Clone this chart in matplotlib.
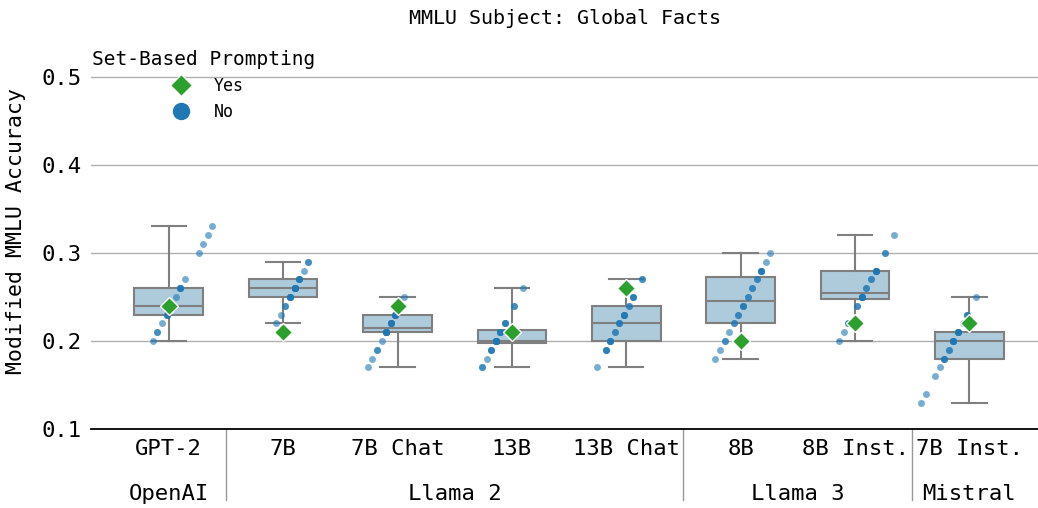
import numpy as np
import matplotlib
matplotlib.use("Agg")
import matplotlib.pyplot as plt
from matplotlib.lines import Line2D

plt.rcParams['font.family'] = ['DejaVu Sans Mono']

# modele ve gruplar
models = ["GPT-2", "7B", "7B Chat", "13B", "13B Chat", "8B", "8B Inst.", "7B Inst."]
groups = ["OpenAI", "Llama 2", "Llama 3", "Mistral"]
group_sizes = [1, 4, 2, 1]

# set-based prompting (Yes) sonuclari
yes_acc = [0.24, 0.21, 0.24, 0.21, 0.26, 0.20, 0.22, 0.22]

# siralama permutasyonlari (No): deger -> adet
no_gpt2 = {0.20: 1, 0.21: 2, 0.22: 1, 0.23: 3, 0.24: 7, 0.25: 1, 0.26: 4,
           0.27: 1, 0.30: 1, 0.31: 1, 0.32: 1, 0.33: 1}
no_l2_7b = {0.22: 1, 0.23: 1, 0.24: 2, 0.25: 5, 0.26: 8, 0.27: 4, 0.28: 1, 0.29: 2}
no_l2_7b_chat = {0.17: 1, 0.18: 1, 0.19: 2, 0.20: 1, 0.21: 7, 0.22: 5, 0.23: 5,
                 0.24: 1, 0.25: 1}
no_l2_13b = {0.17: 2, 0.18: 1, 0.19: 3, 0.20: 8, 0.21: 4, 0.22: 3, 0.24: 2, 0.26: 1}
no_l2_13b_chat = {0.17: 1, 0.19: 3, 0.20: 4, 0.21: 2, 0.22: 3, 0.23: 4, 0.24: 2,
                  0.25: 3, 0.27: 2}
no_l3_8b = {0.18: 1, 0.19: 1, 0.20: 2, 0.21: 1, 0.22: 2, 0.23: 2, 0.24: 3, 0.25: 2,
            0.26: 2, 0.27: 2, 0.28: 4, 0.29: 1, 0.30: 1}
no_l3_8b_inst = {0.20: 1, 0.21: 1, 0.22: 2, 0.24: 2, 0.25: 6, 0.26: 2, 0.27: 2,
                 0.28: 5, 0.30: 2, 0.32: 1}
no_mistral = {0.13: 1, 0.14: 1, 0.16: 1, 0.17: 1, 0.18: 3, 0.19: 2, 0.20: 5,
              0.21: 5, 0.22: 1, 0.23: 3, 0.25: 1}

no_tables = [no_gpt2, no_l2_7b, no_l2_7b_chat, no_l2_13b, no_l2_13b_chat,
             no_l3_8b, no_l3_8b_inst, no_mistral]
no_acc = [np.repeat(list(t.keys()), list(t.values())) for t in no_tables]

fig = plt.figure(figsize=(10.38, 5.08), dpi=100)
ax = fig.add_axes([0.0877, 0.1555, 0.9123, 0.78])

pos = np.arange(len(models))
ax.boxplot(no_acc, positions=pos, widths=0.6, whis=(0, 100), patch_artist=True,
           showfliers=False,
           boxprops=dict(facecolor='#aecbdc', edgecolor='#7f7f7f', linewidth=1.5),
           medianprops=dict(color='#7f7f7f', linewidth=1.5),
           whiskerprops=dict(color='#7f7f7f', linewidth=1.5),
           capprops=dict(color='#7f7f7f', linewidth=1.5), zorder=2)

# noktalar degere gore capraz kaydiriliyor
ref = 0.235
for i, vals in enumerate(no_acc):
    ax.plot(i + 4.0 * (vals - ref), vals, 'o', color='#1f77b4', alpha=0.6,
            markersize=5.0, markeredgewidth=0, zorder=3)
ax.plot(pos, yes_acc, 'D', color='#2ca02c', markersize=9.5, markeredgecolor='white',
        markeredgewidth=1.0, zorder=4, linestyle='none')

ax.set_xlim(-0.68, 7.6)
ax.set_ylim(0.1, 0.55)
ax.set_yticks([0.1, 0.2, 0.3, 0.4, 0.5])
ax.set_yticklabels(['0.1', '0.2', '0.3', '0.4', '0.5'])
ax.set_xticks(pos)
ax.set_xticklabels(models)
ax.tick_params(axis='both', length=0, pad=7, labelsize=16)
ax.grid(axis='y', color='#b0b0b0', linewidth=1)
ax.set_axisbelow(True)
for s in ['top', 'right', 'left']:
    ax.spines[s].set_visible(False)
ax.spines['bottom'].set_linewidth(1.3)

ax.set_ylabel('Modified MMLU Accuracy', fontsize=15.5, labelpad=11)
ax.set_title('MMLU Subject: Global Facts', fontsize=14.4, pad=6)

# grup etiketleri ve ayraclar
trans = ax.get_xaxis_transform()
start = 0
for g, n in zip(groups, group_sizes):
    ax.text(start + (n - 1) / 2, -0.164, g, transform=trans, ha='center', va='center',
            fontsize=16)
    start += n
    if start < len(models):
        ax.plot([start - 0.5, start - 0.5], [0, -0.18], transform=trans, color='#999999',
                linewidth=1, clip_on=False)

handles = [Line2D([], [], marker='D', color='#2ca02c', linestyle='none', markersize=11,
                  markeredgecolor='white'),
           Line2D([], [], marker='o', color='#1f77b4', linestyle='none', markersize=11.5)]
ax.legend(handles, ['Yes', 'No'], title='Set-Based Prompting', loc='upper left',
          bbox_to_anchor=(-0.004, 0.97), frameon=False, fontsize=12, title_fontsize=14,
          borderaxespad=0.0, borderpad=0.3, handletextpad=1.0, labelspacing=0.5)

fig.savefig('out.png', dpi=100)
